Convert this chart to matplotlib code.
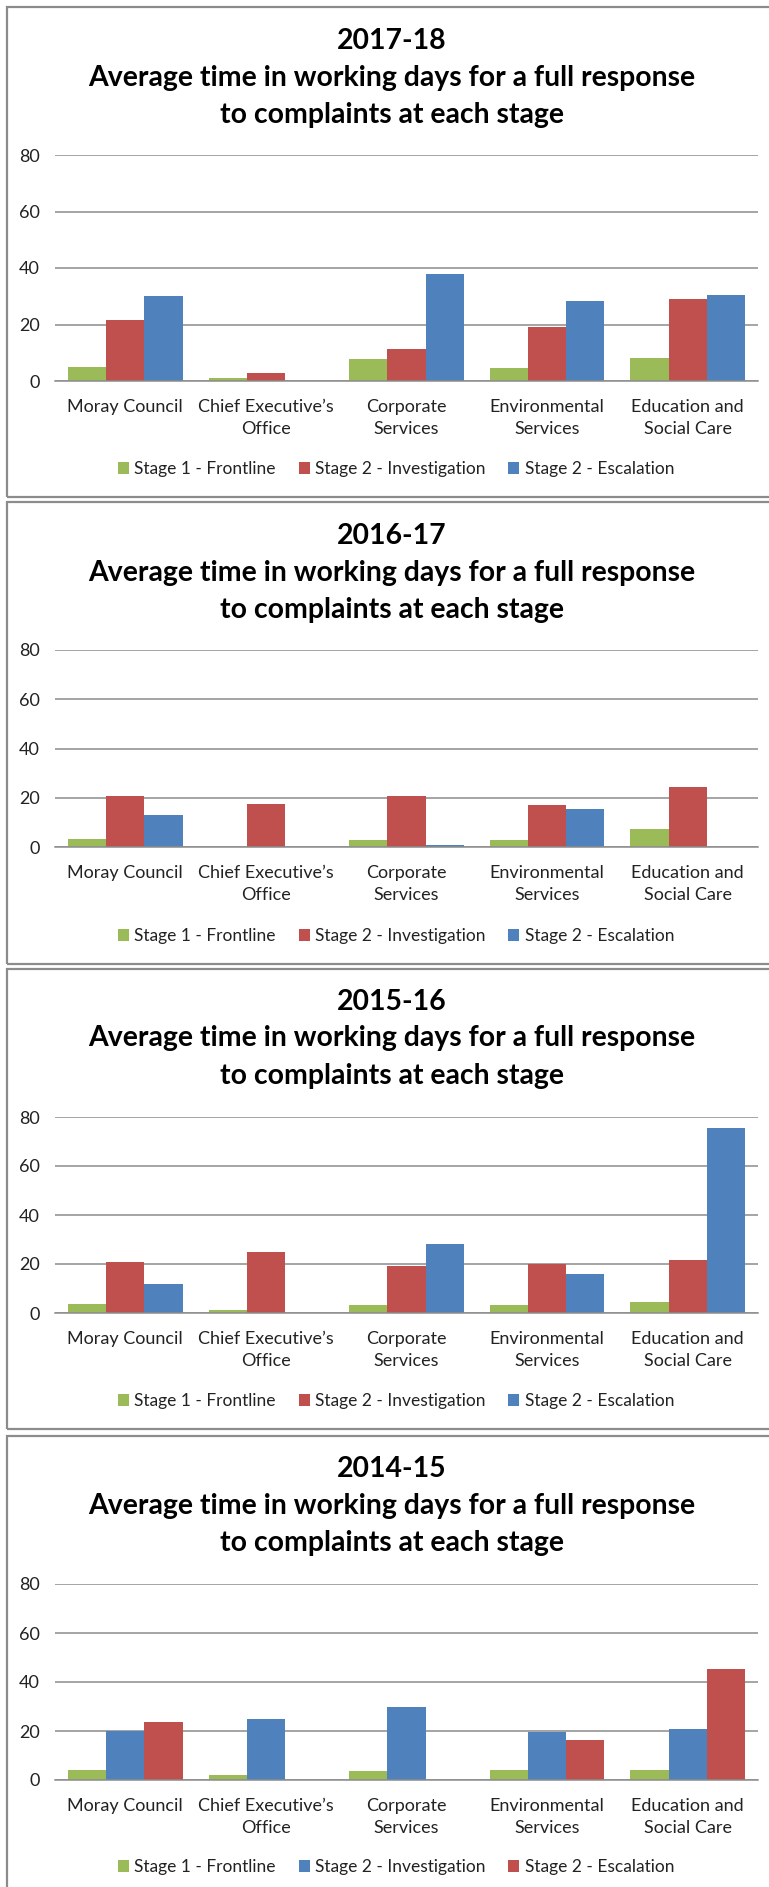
import matplotlib.pyplot as plt
from matplotlib.patches import Rectangle, Patch

plt.rcParams['font.family'] = ['Lato', 'DejaVu Sans']

categories = ["Moray Council", "Chief Executive\u2019s\nOffice", "Corporate\nServices",
              "Environmental\nServices", "Education and\nSocial Care"]

frontline_1718 = [4.8, 0.9, 7.8, 4.5, 8.0]
investigation_1718 = [21.6, 2.9, 11.3, 19.2, 29.0]
escalation_1718 = [30.0, 0, 38.0, 28.3, 30.3]

frontline_1617 = [3.4, 0, 2.8, 2.8, 7.4]
investigation_1617 = [20.7, 17.3, 20.7, 16.9, 24.4]
escalation_1617 = [12.9, 0, 0.7, 15.6, 0]

frontline_1516 = [3.5, 1.2, 3.1, 3.1, 4.5]
investigation_1516 = [20.9, 24.7, 19.0, 20.0, 21.6]
escalation_1516 = [11.7, 0, 28.0, 16.0, 75.7]

frontline_1415 = [4.2, 2.0, 3.5, 4.2, 4.2]
investigation_1415 = [20.1, 25.0, 29.9, 19.5, 21.0]
escalation_1415 = [23.5, 0, 0, 16.2, 45.4]

series_names = ["Stage 1 - Frontline", "Stage 2 - Investigation", "Stage 2 - Escalation"]

GREEN = '#9BBB59'
RED = '#C0504D'
BLUE = '#4F81BD'
GRID = '#8C8C8C'

W, H = 769, 1887
fig = plt.figure(figsize=(W / 100, H / 100), dpi=100)

# (year, series, colours, border top, border bottom, title ys, axes top, axes bottom, legend y)
panels = [
    ("2017-18", [frontline_1718, investigation_1718, escalation_1718], [GREEN, RED, BLUE],
     7, 497, (41, 78, 115), 155, 381, 469),
    ("2016-17", [frontline_1617, investigation_1617, escalation_1617], [GREEN, RED, BLUE],
     502, 964, (536, 573, 610), 650, 847, 936),
    ("2015-16", [frontline_1516, investigation_1516, escalation_1516], [GREEN, RED, BLUE],
     969, 1429, (1002, 1038, 1076), 1117, 1313, 1401),
    ("2014-15", [frontline_1415, investigation_1415, escalation_1415], [GREEN, BLUE, RED],
     1436, 1900, (1469, 1506, 1543), 1584, 1780, 1867),
]

ax_left, ax_right = 55, 758
bar_w = 0.272
offsets = [-bar_w, 0, bar_w]

for year, series, colors, btop, bbot, tys, atop, abot, ly in panels:
    # chart border
    fig.patches.append(Rectangle((6.5 / W, 1 - bbot / H), (W + 20) / W, (bbot - btop) / H,
                                 transform=fig.transFigure, fill=False,
                                 edgecolor=GRID, linewidth=1.6, zorder=0))

    title_lines = [year, "Average time in working days for a full response",
                   "to complaints at each stage"]
    for txt, ty in zip(title_lines, tys):
        fig.text(392 / W, 1 - ty / H, txt, ha='center', va='center',
                 fontsize=20.4, fontweight='bold', color='black')

    ax = fig.add_axes([ax_left / W, 1 - abot / H, (ax_right - ax_left) / W, (abot - atop) / H])
    x = range(len(categories))
    for vals, col, off in zip(series, colors, offsets):
        ax.bar([i + off for i in x], vals, width=bar_w, color=col, zorder=3)

    ax.set_xlim(-0.5, len(categories) - 0.5)
    ax.set_ylim(0, 80)
    ax.set_yticks([0, 20, 40, 60, 80])
    ax.set_xticks(list(x))
    ax.set_xticklabels(categories, fontsize=13, color='#222222', linespacing=1.45)
    ax.tick_params(axis='x', length=0, pad=13)
    ax.tick_params(axis='y', length=0, pad=11, labelsize=13, labelcolor='#222222')
    ax.grid(axis='y', color=GRID, linewidth=1.1, zorder=0)
    for s in ['top', 'right', 'left']:
        ax.spines[s].set_visible(False)
    ax.spines['bottom'].set_color(GRID)
    ax.spines['bottom'].set_linewidth(1.1)
    ax.spines['bottom'].set_zorder(4)
    ax.set_facecolor('none')

    handles = [Patch(facecolor=c, edgecolor='none') for c in colors]
    fig.legend(handles, series_names, loc='center', bbox_to_anchor=(396 / W, 1 - ly / H),
               ncol=3, frameon=False, fontsize=12.5, handlelength=0.65, handleheight=0.65,
               handletextpad=0.3, columnspacing=1.3, labelcolor='#222222')

fig.savefig('out.png', dpi=100, facecolor='white')
